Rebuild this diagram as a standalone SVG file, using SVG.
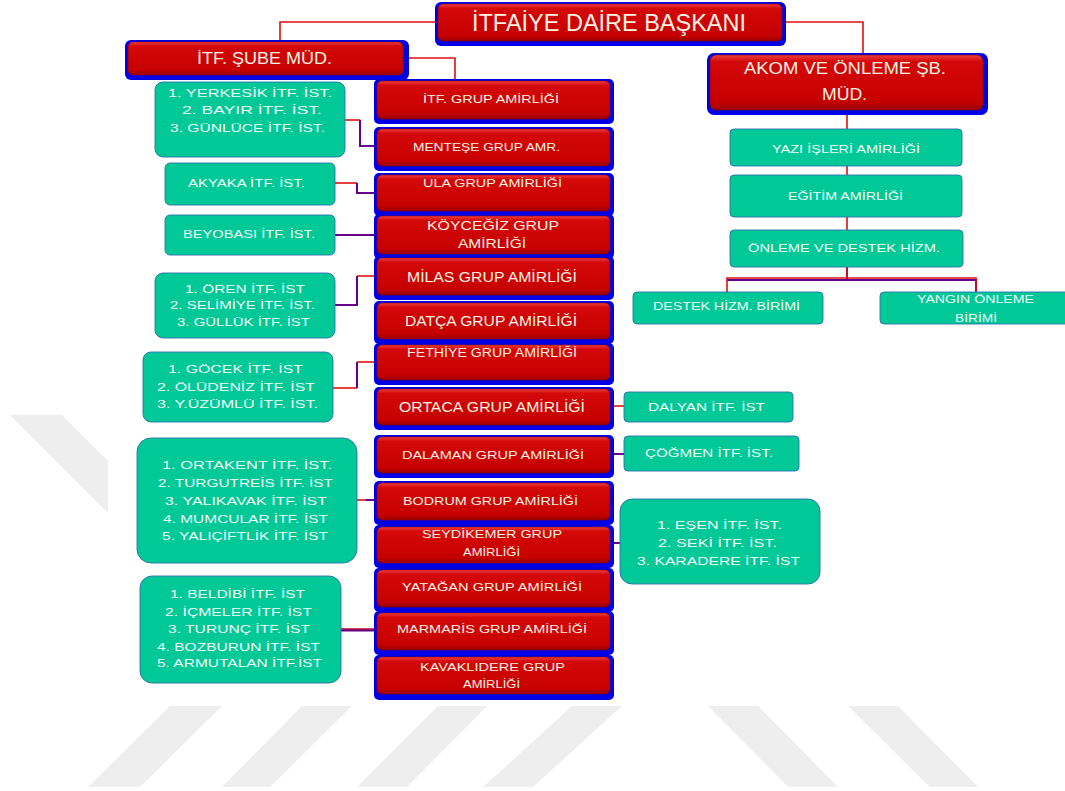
<svg xmlns="http://www.w3.org/2000/svg" width="1065" height="791" viewBox="0 0 1065 791">
<defs>
<linearGradient id="redg" x1="0" y1="0" x2="0" y2="1">
<stop offset="0" stop-color="#ee4040"/>
<stop offset="0.12" stop-color="#d40808"/>
<stop offset="0.85" stop-color="#c60000"/>
<stop offset="1" stop-color="#9a0000"/>
</linearGradient>
</defs>
<style>
.wm{fill:#eeeeee}
.sh{fill:#0000e6}
.rb{fill:url(#redg);stroke:#8a0000;stroke-width:0.6}
.gb{fill:#00c896;stroke:#2f6fb0;stroke-width:0.9}
.rt{font-family:"Liberation Sans",Arial,sans-serif;fill:#fff2e4;font-size:11.5px}
.gt{font-family:"Liberation Sans",Arial,sans-serif;fill:#f2fff9;font-size:11px}
.cr{fill:none;stroke:#dd1111;stroke-width:1.6}
.cp{fill:none;stroke:#660088;stroke-width:2}
</style>
<g id="watermark">
<polygon class="wm" points="170,706 222,706 140,787 88,787"/>
<polygon class="wm" points="302,706 352,706 270,787 222,787"/>
<polygon class="wm" points="438,706 487,706 407,787 357,787"/>
<polygon class="wm" points="572,706 622,706 533,787 483,787"/>
<polygon class="wm" points="708,706 758,706 838,787 788,787"/>
<polygon class="wm" points="848,706 898,706 978,787 930,787"/>
<polygon class="wm" points="10,415 62,415 108,461 108,513"/>
</g>
<g id="connectors">
<path class="cr" d="M438,22 H280 V42"/>
<path class="cr" d="M782,22 H863 V55"/>
<path class="cr" d="M403,58 H455 V81"/>
<path class="cr" d="M847,110 V129 M847,166 V175 M847,217 V230"/>
<path class="cp" d="M847,267 V279 M727,280 H976 V292"/>
<path class="cr" d="M847,267 V278 M727,292 V278 H976 V292"/>
<path class="cr" d="M345,120 H360"/>
<path class="cp" d="M360,120 V146 H377"/>
<path class="cr" d="M335,183 H357"/>
<path class="cp" d="M357,183 V193 H377"/>
<path class="cp" d="M335,235 H377"/>
<path class="cp" d="M335,305 H357 V276"/>
<path class="cr" d="M357,276 H377"/>
<path class="cr" d="M333,388 H357"/>
<path class="cp" d="M357,388 V362"/>
<path class="cr" d="M357,362 H377"/>
<path class="cr" d="M357,500 H366"/>
<path class="cp" d="M366,500 H377"/>
<path class="cp" d="M341,630 H377" style="stroke-width:3"/>
<path class="cr" d="M341,629 H377" style="stroke-width:1"/>
<path class="cr" d="M612,406 H624"/>
<path class="cp" d="M612,454 H624"/>
<path class="cp" d="M612,543 H620"/>
</g>
<g id="n-baskan">
<rect class="sh" x="435" y="2" width="351" height="44" rx="6"/>
<rect class="rb" x="438" y="4" width="344" height="37" rx="5"/>
<text class="rt" x="472" y="31" textLength="274" lengthAdjust="spacingAndGlyphs" style="font-size:23px">İTFAİYE  DAİRE BAŞKANI</text>
</g>
<g id="n-sube">
<rect class="sh" x="125" y="40" width="284" height="40" rx="6"/>
<rect class="rb" x="128" y="42" width="275" height="33" rx="5"/>
<text class="rt" x="197" y="64" textLength="135" lengthAdjust="spacingAndGlyphs" style="font-size:17px">İTF. ŞUBE MÜD.</text>
</g>
<g id="n-akom">
<rect class="sh" x="707" y="53" width="281" height="62" rx="7"/>
<rect class="rb" x="710" y="55" width="273" height="55" rx="6"/>
<text class="rt" x="744" y="74" textLength="202" lengthAdjust="spacingAndGlyphs" style="font-size:16px">AKOM VE ÖNLEME ŞB.</text>
<text class="rt" x="822" y="100" textLength="45" lengthAdjust="spacingAndGlyphs" style="font-size:16px">MÜD.</text>
</g>
<g id="n-itfgrup">
<rect class="sh" x="374" y="79" width="240" height="45" rx="5"/>
<rect class="rb" x="377" y="81" width="233" height="38" rx="5"/>
<text class="rt" x="423" y="103" textLength="136" lengthAdjust="spacingAndGlyphs">İTF. GRUP AMİRLİĞİ</text>
</g>
<g id="n-mentese">
<rect class="sh" x="374" y="127" width="240" height="44" rx="5"/>
<rect class="rb" x="377" y="129" width="233" height="37" rx="5"/>
<text class="rt" x="413" y="151" textLength="147" lengthAdjust="spacingAndGlyphs">MENTEŞE GRUP AMR.</text>
</g>
<g id="n-ula">
<rect class="sh" x="374" y="173" width="240" height="43" rx="5"/>
<rect class="rb" x="377" y="175" width="233" height="36" rx="5"/>
<text class="rt" x="423" y="187" textLength="139" lengthAdjust="spacingAndGlyphs">ULA GRUP  AMİRLİĞİ</text>
</g>
<g id="n-koycegiz">
<rect class="sh" x="374" y="214" width="240" height="45" rx="5"/>
<rect class="rb" x="377" y="216" width="233" height="38" rx="5"/>
<text class="rt" x="427" y="230" textLength="132" lengthAdjust="spacingAndGlyphs" style="font-size:13px">KÖYCEĞİZ  GRUP</text>
<text class="rt" x="458" y="248" textLength="68" lengthAdjust="spacingAndGlyphs" style="font-size:13px">AMİRLİĞİ</text>
</g>
<g id="n-milas">
<rect class="sh" x="374" y="256" width="240" height="44" rx="5"/>
<rect class="rb" x="377" y="258" width="233" height="37" rx="5"/>
<text class="rt" x="407" y="282" textLength="170" lengthAdjust="spacingAndGlyphs" style="font-size:14px">MİLAS GRUP AMİRLİĞİ</text>
</g>
<g id="n-datca">
<rect class="sh" x="374" y="301" width="240" height="43" rx="5"/>
<rect class="rb" x="377" y="303" width="233" height="36" rx="5"/>
<text class="rt" x="405" y="326" textLength="172" lengthAdjust="spacingAndGlyphs" style="font-size:14px">DATÇA GRUP AMİRLİĞİ</text>
</g>
<g id="n-fethiye">
<rect class="sh" x="374" y="343" width="240" height="42" rx="5"/>
<rect class="rb" x="377" y="345" width="233" height="35" rx="5"/>
<text class="rt" x="407" y="357" textLength="170" lengthAdjust="spacingAndGlyphs" style="font-size:12px">FETHİYE GRUP  AMİRLİĞİ</text>
</g>
<g id="n-ortaca">
<rect class="sh" x="374" y="387" width="240" height="43" rx="5"/>
<rect class="rb" x="377" y="389" width="233" height="36" rx="5"/>
<text class="rt" x="399" y="412" textLength="186" lengthAdjust="spacingAndGlyphs" style="font-size:14px">ORTACA GRUP AMİRLİĞİ</text>
</g>
<g id="n-dalaman">
<rect class="sh" x="374" y="435" width="240" height="43" rx="5"/>
<rect class="rb" x="377" y="437" width="233" height="36" rx="5"/>
<text class="rt" x="402" y="459" textLength="182" lengthAdjust="spacingAndGlyphs">DALAMAN  GRUP  AMİRLİĞİ</text>
</g>
<g id="n-bodrum">
<rect class="sh" x="374" y="481" width="240" height="44" rx="5"/>
<rect class="rb" x="377" y="483" width="233" height="37" rx="5"/>
<text class="rt" x="403" y="505" textLength="175" lengthAdjust="spacingAndGlyphs">BODRUM  GRUP  AMİRLİĞİ</text>
</g>
<g id="n-seydikemer">
<rect class="sh" x="374" y="525" width="240" height="43" rx="5"/>
<rect class="rb" x="377" y="527" width="233" height="36" rx="5"/>
<text class="rt" x="422" y="538" textLength="140" lengthAdjust="spacingAndGlyphs">SEYDİKEMER GRUP</text>
<text class="rt" x="463" y="556" textLength="57" lengthAdjust="spacingAndGlyphs">AMİRLİĞİ</text>
</g>
<g id="n-yatagan">
<rect class="sh" x="374" y="568" width="240" height="44" rx="5"/>
<rect class="rb" x="377" y="570" width="233" height="37" rx="5"/>
<text class="rt" x="402" y="591" textLength="180" lengthAdjust="spacingAndGlyphs">YATAĞAN GRUP  AMİRLİĞİ</text>
</g>
<g id="n-marmaris">
<rect class="sh" x="374" y="611" width="240" height="44" rx="5"/>
<rect class="rb" x="377" y="613" width="233" height="37" rx="5"/>
<text class="rt" x="397" y="633" textLength="190" lengthAdjust="spacingAndGlyphs">MARMARİS  GRUP  AMİRLİĞİ</text>
</g>
<g id="n-kavaklidere">
<rect class="sh" x="374" y="655" width="240" height="45" rx="5"/>
<rect class="rb" x="377" y="657" width="233" height="37" rx="5"/>
<text class="rt" x="420" y="671" textLength="145" lengthAdjust="spacingAndGlyphs">KAVAKLIDERE GRUP</text>
<text class="rt" x="463" y="688" textLength="57" lengthAdjust="spacingAndGlyphs">AMİRLİĞİ</text>
</g>
<g id="n-yerkesik">
<rect class="gb" x="155" y="82" width="190" height="75" rx="8"/>
<text class="gt" x="168" y="97" textLength="164" lengthAdjust="spacingAndGlyphs">1.  YERKESİK İTF. İST.</text>
<text class="gt" x="182" y="114" textLength="140" lengthAdjust="spacingAndGlyphs">2.  BAYIR İTF. İST.</text>
<text class="gt" x="170" y="132" textLength="155" lengthAdjust="spacingAndGlyphs">3.  GÜNLÜCE İTF. İST.</text>
</g>
<g id="n-akyaka">
<rect class="gb" x="165" y="163" width="170" height="42" rx="5"/>
<text class="gt" x="188" y="187" textLength="117" lengthAdjust="spacingAndGlyphs">AKYAKA İTF. İST.</text>
</g>
<g id="n-beyobasi">
<rect class="gb" x="165" y="215" width="170" height="40" rx="5"/>
<text class="gt" x="183" y="238" textLength="132" lengthAdjust="spacingAndGlyphs">BEYOBASI İTF. İST.</text>
</g>
<g id="n-oren">
<rect class="gb" x="155" y="273" width="180" height="65" rx="8"/>
<text class="gt" x="185" y="293" textLength="120" lengthAdjust="spacingAndGlyphs">1.   ÖREN İTF. İST</text>
<text class="gt" x="170" y="309" textLength="145" lengthAdjust="spacingAndGlyphs">2.  SELİMİYE İTF. İST.</text>
<text class="gt" x="177" y="326" textLength="133" lengthAdjust="spacingAndGlyphs">3.  GÜLLÜK İTF. İST</text>
</g>
<g id="n-gocek">
<rect class="gb" x="143" y="352" width="190" height="70" rx="8"/>
<text class="gt" x="168" y="373" textLength="135" lengthAdjust="spacingAndGlyphs">1.  GÖCEK  İTF. İST</text>
<text class="gt" x="157" y="391" textLength="158" lengthAdjust="spacingAndGlyphs">2.  ÖLÜDENİZ   İTF. İST</text>
<text class="gt" x="157" y="408" textLength="161" lengthAdjust="spacingAndGlyphs">3.  Y.ÜZÜMLÜ   İTF. İST.</text>
</g>
<g id="n-ortakent">
<rect class="gb" x="137" y="438" width="220" height="125" rx="14"/>
<text class="gt" x="162" y="469" textLength="170" lengthAdjust="spacingAndGlyphs">1.   ORTAKENT İTF. İST.</text>
<text class="gt" x="158" y="487" textLength="175" lengthAdjust="spacingAndGlyphs">2.  TURGUTREİS İTF. İST</text>
<text class="gt" x="165" y="505" textLength="162" lengthAdjust="spacingAndGlyphs">3.  YALIKAVAK İTF. İST</text>
<text class="gt" x="163" y="523" textLength="165" lengthAdjust="spacingAndGlyphs">4.  MUMCULAR   İTF. İST</text>
<text class="gt" x="162" y="540" textLength="166" lengthAdjust="spacingAndGlyphs">5.  YALIÇİFTLİK İTF. İST</text>
</g>
<g id="n-beldibi">
<rect class="gb" x="140" y="576" width="201" height="107" rx="12"/>
<text class="gt" x="170" y="598" textLength="135" lengthAdjust="spacingAndGlyphs">1.  BELDİBİ İTF. İST</text>
<text class="gt" x="165" y="616" textLength="147" lengthAdjust="spacingAndGlyphs">2.  İÇMELER  İTF. İST</text>
<text class="gt" x="168" y="633" textLength="142" lengthAdjust="spacingAndGlyphs">3.  TURUNÇ İTF. İST</text>
<text class="gt" x="157" y="651" textLength="163" lengthAdjust="spacingAndGlyphs">4.  BOZBURUN  İTF. İST</text>
<text class="gt" x="157" y="667" textLength="165" lengthAdjust="spacingAndGlyphs">5.  ARMUTALAN İTF.İST</text>
</g>
<g id="n-dalyan">
<rect class="gb" x="624" y="392" width="169" height="30" rx="4"/>
<text class="gt" x="648" y="411" textLength="117" lengthAdjust="spacingAndGlyphs">DALYAN İTF. İST</text>
</g>
<g id="n-cogmen">
<rect class="gb" x="624" y="436" width="175" height="35" rx="4"/>
<text class="gt" x="645" y="457" textLength="128" lengthAdjust="spacingAndGlyphs">ÇÖĞMEN  İTF. İST.</text>
</g>
<g id="n-esen">
<rect class="gb" x="620" y="499" width="200" height="85" rx="12"/>
<text class="gt" x="657" y="529" textLength="125" lengthAdjust="spacingAndGlyphs">1.   EŞEN İTF. İST.</text>
<text class="gt" x="658" y="547" textLength="119" lengthAdjust="spacingAndGlyphs">2.   SEKİ İTF. İST.</text>
<text class="gt" x="637" y="565" textLength="163" lengthAdjust="spacingAndGlyphs">3.   KARADERE İTF. İST</text>
</g>
<g id="n-yazi">
<rect class="gb" x="730" y="129" width="232" height="37" rx="4"/>
<text class="gt" x="772" y="153" textLength="148" lengthAdjust="spacingAndGlyphs">YAZI İŞLERİ  AMİRLİĞİ</text>
</g>
<g id="n-egitim">
<rect class="gb" x="730" y="175" width="232" height="42" rx="4"/>
<text class="gt" x="788" y="200" textLength="115" lengthAdjust="spacingAndGlyphs">EĞİTİM  AMİRLİĞİ</text>
</g>
<g id="n-onleme">
<rect class="gb" x="730" y="230" width="233" height="37" rx="4"/>
<text class="gt" x="748" y="252" textLength="192" lengthAdjust="spacingAndGlyphs">ÖNLEME  VE DESTEK HİZM.</text>
</g>
<g id="n-destek">
<rect class="gb" x="633" y="292" width="190" height="32" rx="4"/>
<text class="gt" x="653" y="310" textLength="147" lengthAdjust="spacingAndGlyphs">DESTEK HİZM.  BİRİMİ</text>
</g>
<g id="n-yangin">
<rect class="gb" x="880" y="292" width="195" height="32" rx="4"/>
<text class="gt" x="917" y="303" textLength="117" lengthAdjust="spacingAndGlyphs">YANGIN ÖNLEME</text>
<text class="gt" x="955" y="322" textLength="42" lengthAdjust="spacingAndGlyphs">BİRİMİ</text>
</g>
</svg>
